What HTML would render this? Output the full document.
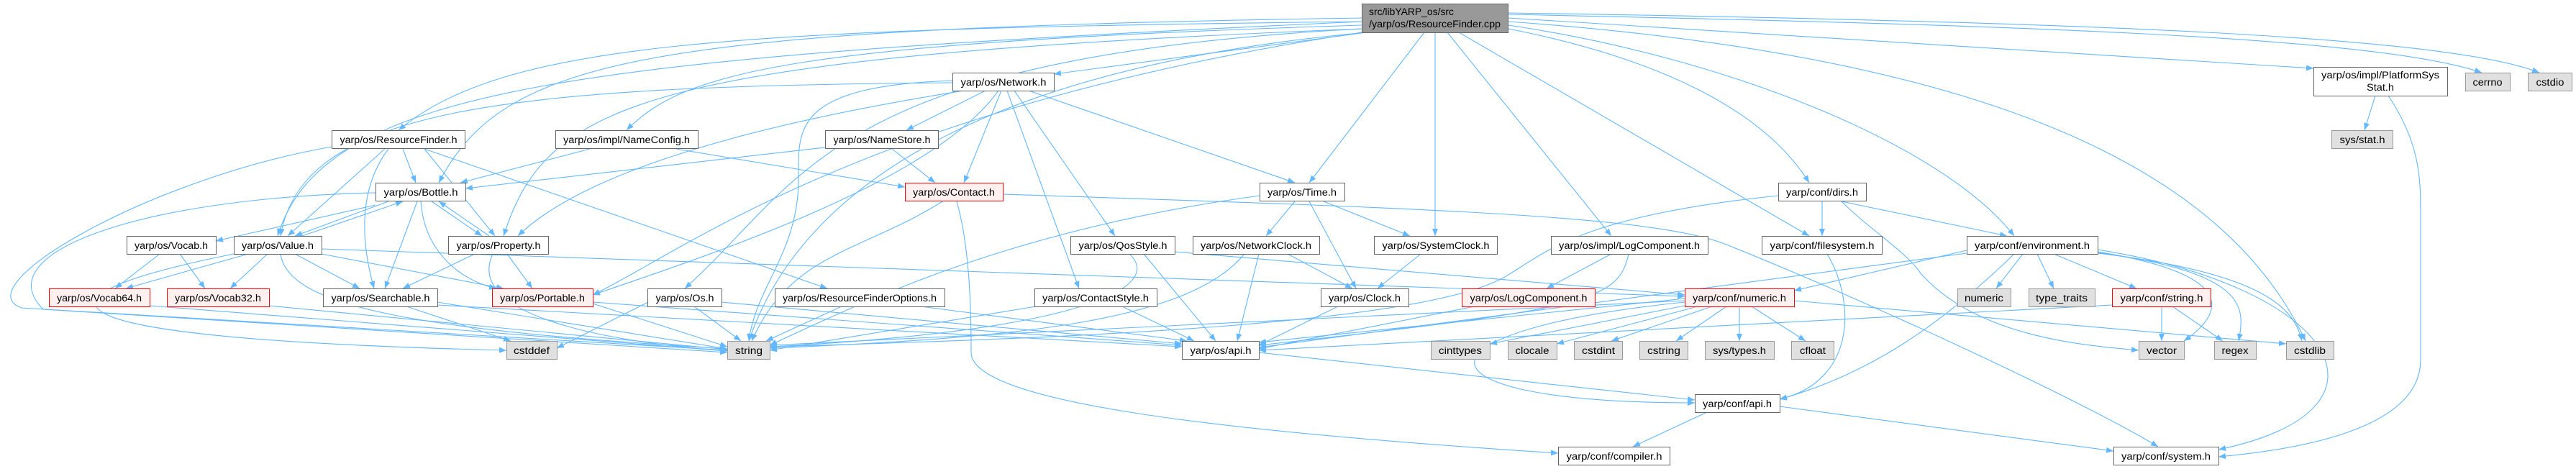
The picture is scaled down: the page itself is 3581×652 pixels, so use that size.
<!DOCTYPE html>
<html><head><meta charset="utf-8"><style>
html,body{margin:0;padding:0;background:#fff}
svg{display:block}
text{font-family:"Liberation Sans",sans-serif;font-size:13.5px;fill:#000}
.e{fill:none;stroke:#63b8ff;stroke-width:1.1;marker-end:url(#a)}
.n{fill:#fff;stroke:#666}
.r{fill:#fff0f0;stroke:#f00}
.g{fill:#e0e0e0;stroke:#999}
.c{fill:#999;stroke:#666}
</style></head><body>
<svg width="3581" height="652" viewBox="0 0 3581 652" xmlns="http://www.w3.org/2000/svg">
<defs><marker id="a" markerWidth="10" markerHeight="8" refX="10" refY="4" orient="auto" markerUnits="userSpaceOnUse"><path d="M0,0 L10,4 L0,8 z" fill="#63b8ff"/></marker></defs>
<g>
<!-- cpp edges -->
<path class="e" d="M1893,30 C1000,40 700,60 554,181"/>
<path class="e" d="M1893,35 C1100,60 950,100 871,181"/>
<path class="e" d="M1893,25 C900,40 700,80 610,254"/>
<path class="e" d="M1893,30 C800,80 450,120 386,328"/>
<path class="e" d="M1893,40 C900,80 760,140 700,328"/>
<path class="e" d="M1900,45 L1465,103"/>
<path class="e" d="M1893,40 C1150,80 1120,250 952,401"/>
<path class="e" d="M1900,45 C1300,100 1100,300 1041,474"/>
<path class="e" d="M1980,45 L1820,254"/>
<path class="e" d="M1995,45 L1995,328"/>
<path class="e" d="M2012,45 L2240,328"/>
<path class="e" d="M2028,45 L2515,328"/>
<path class="e" d="M2097,40 C2300,80 2450,150 2515,254"/>
<path class="e" d="M2097,35 C2400,80 2700,200 2800,328"/>
<path class="e" d="M2097,25 L3216,95"/>
<path class="e" d="M2097,20 C2800,35 3300,50 3450,101"/>
<path class="e" d="M2097,18 C2900,30 3400,50 3530,101"/>
<path class="e" d="M2097,30 C2800,80 3100,250 3205,474"/>
<path class="e" d="M1893,45 C1200,150 950,350 824,410"/>
<!-- Network -->
<path class="e" d="M1370,126 L1260,181"/>
<path class="e" d="M1392,126 L1340,254"/>
<path class="e" d="M1430,126 L1800,254"/>
<path class="e" d="M1410,126 L1550,328"/>
<path class="e" d="M1400,126 L1500,401"/>
<path class="e" d="M1324,115 C700,120 420,150 390,328"/>
<path class="e" d="M1340,126 C1000,180 800,250 720,328"/>
<path class="e" d="M1388,126 C1300,250 1000,350 824,410"/>
<path class="e" d="M1324,112 C1100,120 1110,180 1110,250 C1110,350 1050,400 1041,474"/>
<path class="e" d="M1147,205 L647,262"/>
<path class="e" d="M820,207 L640,254"/>
<path class="e" d="M940,207 L1258,260"/>
<path class="e" d="M1240,207 L1300,254"/>
<!-- RF.h -->
<path class="e" d="M560,207 L578,254"/>
<path class="e" d="M535,207 L400,328"/>
<path class="e" d="M540,207 C500,260 500,330 520,401"/>
<path class="e" d="M590,207 L688,328"/>
<path class="e" d="M590,207 L1150,401"/>
<path class="e" d="M461,204 C200,250 -50,400 30,428 L1011,487"/>
<!-- Bottle -->
<path class="e" d="M540,280 L410,328"/>
<path class="e" d="M420,328 L560,280"/>
<path class="e" d="M522,285 L300,335"/>
<path class="e" d="M580,280 L535,401"/>
<path class="e" d="M600,280 L670,328"/>
<path class="e" d="M680,328 L610,280"/>
<path class="e" d="M585,280 C590,350 640,390 690,401"/>
<path class="e" d="M522,268 C200,275 -20,350 60,430 L1011,490"/>
<!-- Value -->
<path class="e" d="M410,353 L500,401"/>
<path class="e" d="M447,353 L700,401"/>
<path class="e" d="M345,353 L175,401"/>
<path class="e" d="M372,353 L320,401"/>
<path class="e" d="M390,353 C400,430 600,460 1011,485"/>
<path class="e" d="M325,353 C40,410 0,470 704,487"/>
<path class="e" d="M447,346 L2342,412"/>
<path class="e" d="M222,353 L160,401"/>
<path class="e" d="M250,353 L285,401"/>
<!-- Property -->
<path class="e" d="M660,353 L560,401"/>
<path class="e" d="M705,353 L740,401"/>
<path class="e" d="M685,353 C640,450 900,480 1011,488"/>
<!-- Searchable / Portable / Vocabs -->
<path class="e" d="M565,426 L710,474"/>
<path class="e" d="M608,420 L1011,485"/>
<path class="e" d="M608,424 L1643,482"/>
<path class="e" d="M824,420 L1643,480"/>
<path class="e" d="M824,422 L1011,482"/>
<path class="e" d="M208,425 L1011,488"/>
<path class="e" d="M374,425 L1011,486"/>
<!-- Contact -->
<path class="e" d="M1310,280 C1200,350 1100,350 1045,474"/>
<path class="e" d="M1394,270 C2000,290 2300,300 2400,340 C2600,420 2900,560 3000,621"/>
<path class="e" d="M1330,280 C1350,350 1350,450 1350,490 C1350,560 1700,600 2166,630"/>
<!-- Time etc -->
<path class="e" d="M1840,280 L1960,328"/>
<path class="e" d="M1800,280 L1760,328"/>
<path class="e" d="M1820,280 L1885,401"/>
<path class="e" d="M1751,272 C1400,320 1200,420 1070,480"/>
<path class="e" d="M1590,353 L1690,474"/>
<path class="e" d="M1570,353 C1620,400 1500,460 1070,482"/>
<path class="e" d="M1633,350 L2342,410"/>
<path class="e" d="M1790,353 L1880,401"/>
<path class="e" d="M1750,353 L1720,474"/>
<path class="e" d="M1730,353 C1650,450 1400,470 1070,484"/>
<path class="e" d="M1975,353 L1915,401"/>
<path class="e" d="M965,426 L1030,474"/>
<path class="e" d="M1003,420 L1643,478"/>
<path class="e" d="M901,420 L774,484"/>
<path class="e" d="M1170,426 L1065,474"/>
<path class="e" d="M1280,426 L1650,474"/>
<path class="e" d="M1560,426 L1660,474"/>
<path class="e" d="M1440,426 L1070,487"/>
<path class="e" d="M1860,426 L1750,480"/>
<path class="e" d="M2240,353 L2150,401"/>
<path class="e" d="M2264,353 C2250,420 2200,430 1750,480"/>
<path class="e" d="M2050,426 L1750,485"/>
<!-- numeric.h -->
<path class="e" d="M2342,425 L2071,478"/>
<path class="e" d="M2360,426 L2164,478"/>
<path class="e" d="M2380,426 L2240,474"/>
<path class="e" d="M2400,426 L2330,474"/>
<path class="e" d="M2418,426 L2418,474"/>
<path class="e" d="M2435,426 L2510,474"/>
<path class="e" d="M2342,420 C1950,460 1950,560 2356,560"/>
<path class="e" d="M2342,418 L1070,480"/>
<path class="e" d="M2342,415 L1750,476"/>
<path class="e" d="M2494,418 L3178,478"/>
<!-- dirs / filesystem / environment -->
<path class="e" d="M2533,280 L2533,328"/>
<path class="e" d="M2560,280 L2790,328"/>
<path class="e" d="M2560,280 C2600,320 2650,350 2670,380 C2750,470 2900,480 2973,487"/>
<path class="e" d="M2472,272 C2200,300 2150,350 2100,380 C2000,450 1500,470 1070,482"/>
<path class="e" d="M2540,353 C2580,420 2580,530 2474,555"/>
<path class="e" d="M2812,353 L2775,401"/>
<path class="e" d="M2832,353 L2855,401"/>
<path class="e" d="M2855,353 L2970,401"/>
<path class="e" d="M2916,350 C3100,380 3100,430 3036,474"/>
<path class="e" d="M2916,351 C3130,380 3120,430 3112,474"/>
<path class="e" d="M2916,352 C3150,380 3190,430 3200,474"/>
<path class="e" d="M2916,347 C3250,400 3350,570 3084,625"/>
<path class="e" d="M2734,348 L2494,404"/>
<path class="e" d="M2800,353 C2700,450 2600,520 2474,555"/>
<path class="e" d="M2734,352 L1750,483"/>
<path class="e" d="M3005,426 L3005,474"/>
<path class="e" d="M3020,426 L3090,474"/>
<path class="e" d="M2936,424 L1750,487"/>
<path class="e" d="M3302,133 L3287,181"/>
<path class="e" d="M3320,133 C3365,200 3365,250 3365,300 L3365,500 C3365,580 3250,620 3084,635"/>
<path class="e" d="M2373,573 L2270,621"/>
<path class="e" d="M2474,565 L2938,627"/>
<path class="e" d="M1750,490 L2356,556"/>
</g>
<g>
<rect class="c" x="1893.5" y="5.5" width="203" height="40"/>
<text x="1903" y="21" textLength="118" lengthAdjust="spacingAndGlyphs">src/libYARP_os/src</text>
<text x="1903" y="38" textLength="183" lengthAdjust="spacingAndGlyphs">/yarp/os/ResourceFinder.cpp</text>

<rect class="n" x="461.5" y="181.5" width="185" height="25"/><text x="554" y="199" text-anchor="middle" textLength="163" lengthAdjust="spacingAndGlyphs">yarp/os/ResourceFinder.h</text>
<rect class="n" x="772.5" y="181.5" width="198" height="25"/><text x="871" y="199" text-anchor="middle" textLength="176" lengthAdjust="spacingAndGlyphs">yarp/os/impl/NameConfig.h</text>
<rect class="n" x="1147.5" y="181.5" width="157" height="25"/><text x="1226" y="199" text-anchor="middle" textLength="135" lengthAdjust="spacingAndGlyphs">yarp/os/NameStore.h</text>
<rect class="n" x="1324.5" y="101.5" width="141" height="25"/><text x="1395" y="119" text-anchor="middle" textLength="119" lengthAdjust="spacingAndGlyphs">yarp/os/Network.h</text>
<rect class="n" x="522.5" y="254.5" width="125" height="25"/><text x="585" y="272" text-anchor="middle" textLength="103" lengthAdjust="spacingAndGlyphs">yarp/os/Bottle.h</text>
<rect class="r" x="1258.5" y="254.5" width="136" height="25"/><text x="1326" y="272" text-anchor="middle" textLength="114" lengthAdjust="spacingAndGlyphs">yarp/os/Contact.h</text>
<rect class="n" x="1751.5" y="254.5" width="118" height="25"/><text x="1810" y="272" text-anchor="middle" textLength="96" lengthAdjust="spacingAndGlyphs">yarp/os/Time.h</text>
<rect class="n" x="2472.5" y="254.5" width="122" height="25"/><text x="2533" y="272" text-anchor="middle" textLength="100" lengthAdjust="spacingAndGlyphs">yarp/conf/dirs.h</text>

<rect class="n" x="176.5" y="328.5" width="124" height="25"/><text x="238" y="346" text-anchor="middle" textLength="102" lengthAdjust="spacingAndGlyphs">yarp/os/Vocab.h</text>
<rect class="n" x="325.5" y="328.5" width="122" height="25"/><text x="386" y="346" text-anchor="middle" textLength="100" lengthAdjust="spacingAndGlyphs">yarp/os/Value.h</text>
<rect class="n" x="623.5" y="328.5" width="139" height="25"/><text x="693" y="346" text-anchor="middle" textLength="117" lengthAdjust="spacingAndGlyphs">yarp/os/Property.h</text>
<rect class="n" x="1488.5" y="328.5" width="145" height="25"/><text x="1561" y="346" text-anchor="middle" textLength="123" lengthAdjust="spacingAndGlyphs">yarp/os/QosStyle.h</text>
<rect class="n" x="1658.5" y="328.5" width="176" height="25"/><text x="1746" y="346" text-anchor="middle" textLength="154" lengthAdjust="spacingAndGlyphs">yarp/os/NetworkClock.h</text>
<rect class="n" x="1910.5" y="328.5" width="171" height="25"/><text x="1996" y="346" text-anchor="middle" textLength="149" lengthAdjust="spacingAndGlyphs">yarp/os/SystemClock.h</text>
<rect class="n" x="2156.5" y="328.5" width="218" height="25"/><text x="2265" y="346" text-anchor="middle" textLength="196" lengthAdjust="spacingAndGlyphs">yarp/os/impl/LogComponent.h</text>
<rect class="n" x="2449.5" y="328.5" width="167" height="25"/><text x="2533" y="346" text-anchor="middle" textLength="145" lengthAdjust="spacingAndGlyphs">yarp/conf/filesystem.h</text>
<rect class="n" x="2734.5" y="328.5" width="182" height="25"/><text x="2825" y="346" text-anchor="middle" textLength="160" lengthAdjust="spacingAndGlyphs">yarp/conf/environment.h</text>

<rect class="r" x="68.5" y="401.5" width="140" height="25"/><text x="138" y="419" text-anchor="middle" textLength="118" lengthAdjust="spacingAndGlyphs">yarp/os/Vocab64.h</text>
<rect class="r" x="232.5" y="401.5" width="142" height="25"/><text x="303" y="419" text-anchor="middle" textLength="120" lengthAdjust="spacingAndGlyphs">yarp/os/Vocab32.h</text>
<rect class="n" x="449.5" y="401.5" width="159" height="25"/><text x="529" y="419" text-anchor="middle" textLength="137" lengthAdjust="spacingAndGlyphs">yarp/os/Searchable.h</text>
<rect class="r" x="684.5" y="401.5" width="140" height="25"/><text x="754" y="419" text-anchor="middle" textLength="118" lengthAdjust="spacingAndGlyphs">yarp/os/Portable.h</text>
<rect class="n" x="900.5" y="401.5" width="103" height="25"/><text x="952" y="419" text-anchor="middle" textLength="81" lengthAdjust="spacingAndGlyphs">yarp/os/Os.h</text>
<rect class="n" x="1077.5" y="401.5" width="236" height="25"/><text x="1195" y="419" text-anchor="middle" textLength="214" lengthAdjust="spacingAndGlyphs">yarp/os/ResourceFinderOptions.h</text>
<rect class="n" x="1438.5" y="401.5" width="170" height="25"/><text x="1523" y="419" text-anchor="middle" textLength="148" lengthAdjust="spacingAndGlyphs">yarp/os/ContactStyle.h</text>
<rect class="n" x="1836.5" y="401.5" width="122" height="25"/><text x="1897" y="419" text-anchor="middle" textLength="100" lengthAdjust="spacingAndGlyphs">yarp/os/Clock.h</text>
<rect class="r" x="2032.5" y="401.5" width="185" height="25"/><text x="2125" y="419" text-anchor="middle" textLength="163" lengthAdjust="spacingAndGlyphs">yarp/os/LogComponent.h</text>
<rect class="r" x="2342.5" y="401.5" width="152" height="25"/><text x="2418" y="419" text-anchor="middle" textLength="130" lengthAdjust="spacingAndGlyphs">yarp/conf/numeric.h</text>
<rect class="g" x="2721.5" y="401.5" width="74" height="25"/><text x="2758" y="419" text-anchor="middle" textLength="54" lengthAdjust="spacingAndGlyphs">numeric</text>
<rect class="g" x="2820.5" y="401.5" width="92" height="25"/><text x="2866" y="419" text-anchor="middle" textLength="72" lengthAdjust="spacingAndGlyphs">type_traits</text>
<rect class="r" x="2936.5" y="401.5" width="137" height="25"/><text x="3005" y="419" text-anchor="middle" textLength="115" lengthAdjust="spacingAndGlyphs">yarp/conf/string.h</text>

<rect class="g" x="704.5" y="474.5" width="70" height="25"/><text x="739" y="492" text-anchor="middle" textLength="50" lengthAdjust="spacingAndGlyphs">cstddef</text>
<rect class="g" x="1011.5" y="474.5" width="59" height="25"/><text x="1041" y="492" text-anchor="middle" textLength="38" lengthAdjust="spacingAndGlyphs">string</text>
<rect class="n" x="1643.5" y="474.5" width="107" height="25"/><text x="1697" y="492" text-anchor="middle" textLength="85" lengthAdjust="spacingAndGlyphs">yarp/os/api.h</text>
<rect class="g" x="1989.5" y="474.5" width="82" height="25"/><text x="2030" y="492" text-anchor="middle" textLength="60" lengthAdjust="spacingAndGlyphs">cinttypes</text>
<rect class="g" x="2096.5" y="474.5" width="68" height="25"/><text x="2130" y="492" text-anchor="middle" textLength="47" lengthAdjust="spacingAndGlyphs">clocale</text>
<rect class="g" x="2188.5" y="474.5" width="67" height="25"/><text x="2222" y="492" text-anchor="middle" textLength="46" lengthAdjust="spacingAndGlyphs">cstdint</text>
<rect class="g" x="2279.5" y="474.5" width="67" height="25"/><text x="2313" y="492" text-anchor="middle" textLength="46" lengthAdjust="spacingAndGlyphs">cstring</text>
<rect class="g" x="2370.5" y="474.5" width="96" height="25"/><text x="2418" y="492" text-anchor="middle" textLength="74" lengthAdjust="spacingAndGlyphs">sys/types.h</text>
<rect class="g" x="2490.5" y="474.5" width="59" height="25"/><text x="2520" y="492" text-anchor="middle" textLength="36" lengthAdjust="spacingAndGlyphs">cfloat</text>
<rect class="g" x="2973.5" y="474.5" width="63" height="25"/><text x="3005" y="492" text-anchor="middle" textLength="42" lengthAdjust="spacingAndGlyphs">vector</text>
<rect class="g" x="3078.5" y="474.5" width="58" height="25"/><text x="3107" y="492" text-anchor="middle" textLength="37" lengthAdjust="spacingAndGlyphs">regex</text>
<rect class="g" x="3178.5" y="474.5" width="66" height="25"/><text x="3211" y="492" text-anchor="middle" textLength="44" lengthAdjust="spacingAndGlyphs">cstdlib</text>

<rect class="n" x="2356.5" y="548.5" width="118" height="25"/><text x="2415" y="566" text-anchor="middle" textLength="96" lengthAdjust="spacingAndGlyphs">yarp/conf/api.h</text>
<rect class="n" x="2166.5" y="621.5" width="155" height="25"/><text x="2244" y="639" text-anchor="middle" textLength="133" lengthAdjust="spacingAndGlyphs">yarp/conf/compiler.h</text>
<rect class="n" x="2938.5" y="621.5" width="146" height="25"/><text x="3011" y="639" text-anchor="middle" textLength="124" lengthAdjust="spacingAndGlyphs">yarp/conf/system.h</text>

<rect class="n" x="3216.5" y="93.5" width="186" height="40"/>
<text x="3309" y="109" text-anchor="middle" textLength="164" lengthAdjust="spacingAndGlyphs">yarp/os/impl/PlatformSys</text>
<text x="3309" y="126" text-anchor="middle" textLength="38" lengthAdjust="spacingAndGlyphs">Stat.h</text>
<rect class="g" x="3427.5" y="101.5" width="62" height="25"/><text x="3458" y="119" text-anchor="middle" textLength="41" lengthAdjust="spacingAndGlyphs">cerrno</text>
<rect class="g" x="3514.5" y="101.5" width="61" height="25"/><text x="3545" y="119" text-anchor="middle" textLength="39" lengthAdjust="spacingAndGlyphs">cstdio</text>
<rect class="g" x="3241.5" y="181.5" width="85" height="25"/><text x="3284" y="199" text-anchor="middle" textLength="63" lengthAdjust="spacingAndGlyphs">sys/stat.h</text>
</g>
</svg>
</body></html>
